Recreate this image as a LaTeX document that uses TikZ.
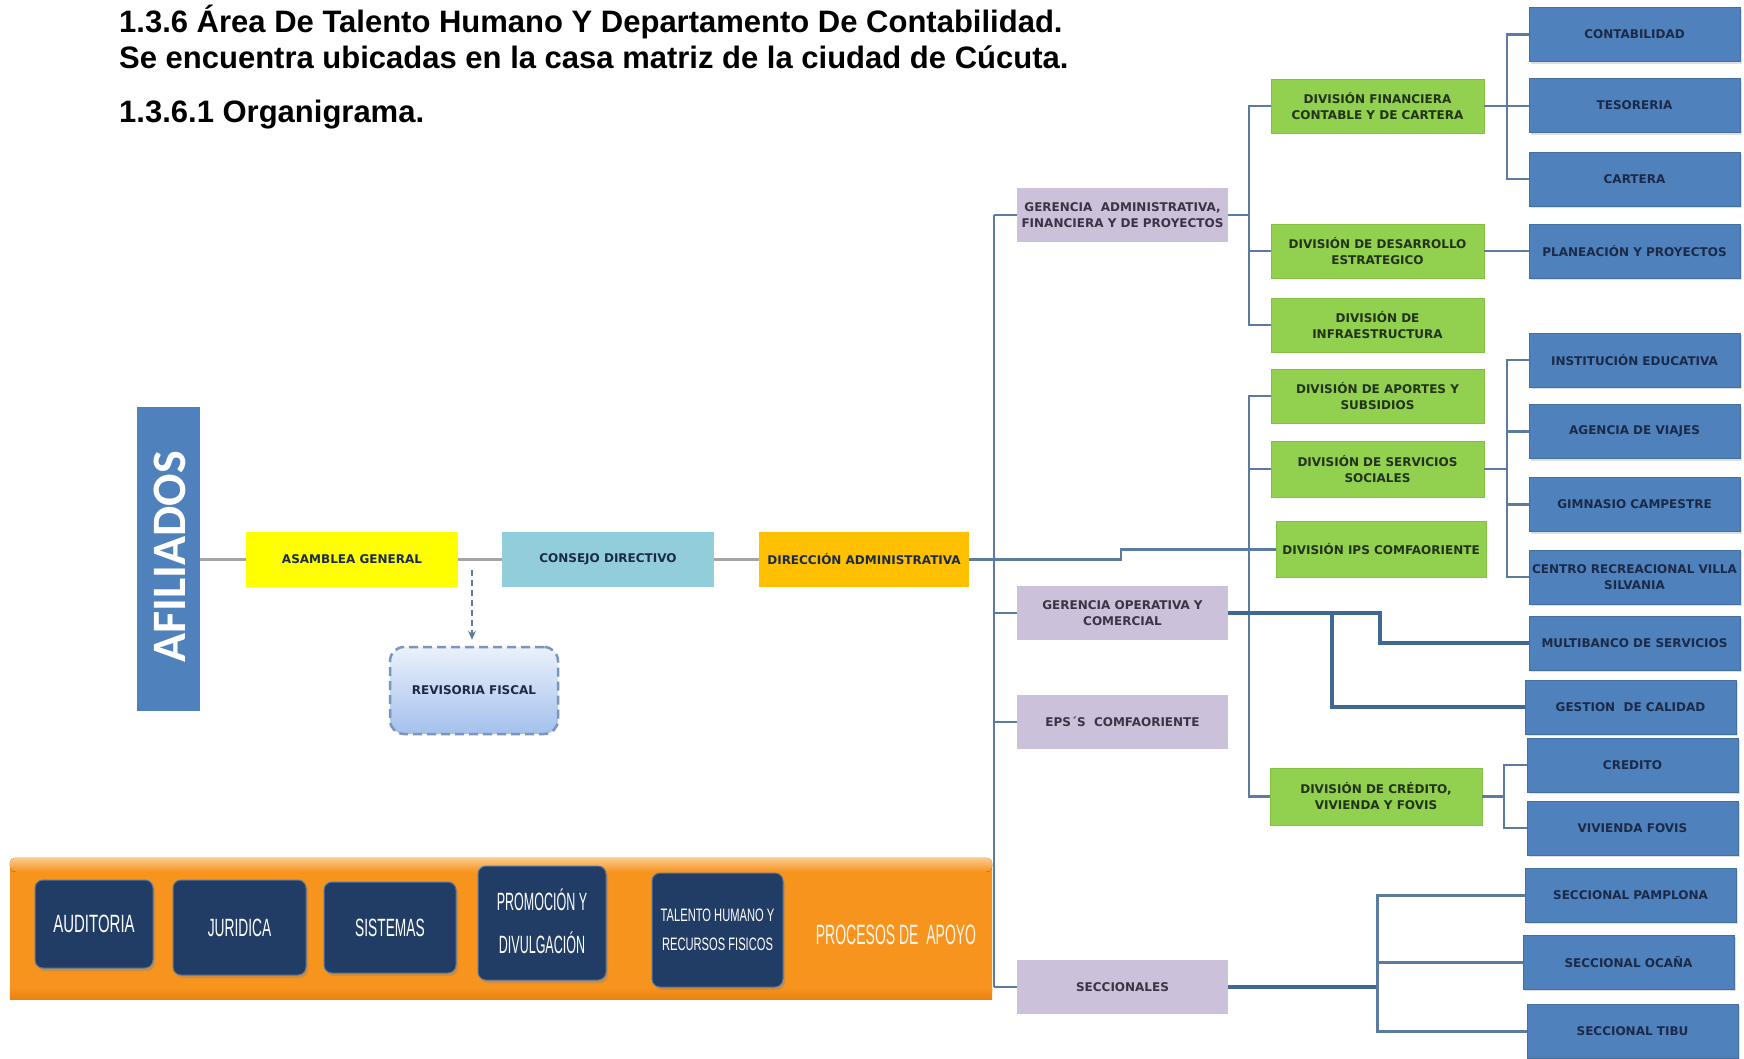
\documentclass[tikz,border=0pt]{standalone}
\usepackage{fontspec}
\usepackage{graphicx}
\setmainfont{Liberation Sans}
\newfontfamily\boxfont{DejaVu Sans}
\newfontfamily\afilfont{Carlito}
\newfontfamily\narrowfont{Liberation Sans}
\usetikzlibrary{shadows,arrows.meta}
\definecolor{boxblue}{HTML}{4F81BD}
\definecolor{boxblueline}{HTML}{41719C}
\definecolor{bluetext}{HTML}{1B2A48}
\definecolor{boxgreen}{HTML}{92D050}
\definecolor{boxgreenline}{HTML}{84C043}
\definecolor{greentext}{HTML}{22331A}
\definecolor{boxlav}{HTML}{CCC1DA}
\definecolor{lavtext}{HTML}{3C3346}
\definecolor{boxyellow}{HTML}{FFFF00}
\definecolor{boxcyan}{HTML}{92CDDC}
\definecolor{boxorange}{HTML}{FFC000}
\definecolor{connblue}{HTML}{5B7BA3}
\definecolor{connthick}{HTML}{3F6894}
\definecolor{conngray}{HTML}{A5A5A5}
\definecolor{bannerorange}{HTML}{F7941E}
\definecolor{bannerlight}{HTML}{FBC98E}
\definecolor{bannerdark}{HTML}{E9820F}
\definecolor{navybox}{HTML}{213D66}
\definecolor{navyline}{HTML}{56769F}
\definecolor{revline}{HTML}{7A96BC}
\definecolor{revtop}{HTML}{EAF1FB}
\definecolor{revbot}{HTML}{A4C0EC}
\newcommand{\narrowtxt}[2]{\scalebox{#1}[1]{\begin{tabular}{@{}c@{}}#2\end{tabular}}}
\begin{document}
\begin{tikzpicture}[x=1pt,y=-1pt,
  base/.style={inner sep=0pt, align=center, font={\boxfont\bfseries\fontsize{12}{16}\selectfont}},
  bluebox/.style={base, fill=boxblue, draw=boxblueline, line width=0.8pt, text=bluetext,
     minimum width=211pt, minimum height=54pt, drop shadow={opacity=0.25,shadow xshift=2pt,shadow yshift=-2pt}},
  greenbox/.style={base, fill=boxgreen, draw=boxgreenline, line width=0.6pt, text=greentext,
     minimum width=213pt, minimum height=54pt},
  lavbox/.style={base, fill=boxlav, text=lavtext, minimum width=211pt, minimum height=54pt},
  rowbox/.style={base, minimum width=212pt, minimum height=55pt, text=bluetext},
  conn/.style={draw=connblue, line width=2.4pt},
  thickconn/.style={draw=connthick, line width=4pt},
  grayconn/.style={draw=conngray, line width=3.5pt},
  navyboxst/.style={fill=navybox, draw=navyline, line width=1pt, rounded corners=8pt, text=white,
     inner sep=0pt, align=center, drop shadow={opacity=0.35,shadow xshift=2pt,shadow yshift=-3pt},
     font={\narrowfont\fontsize{25}{43}\selectfont}},
  titlest/.style={anchor=base west, inner sep=0pt, font={\bfseries\fontsize{31}{37}\selectfont}}
]
\useasboundingbox (0,0) rectangle (1744,1058);
\fill[white] (0,0) rectangle (1744,1058);

% titles
\node[titlest] (t1) at (119,32) {1.3.6 Área De Talento Humano Y Departamento De Contabilidad.};
\node[titlest] (t2) at (119,68) {Se encuentra ubicadas en la casa matriz de la ciudad de Cúcuta.};
\node[titlest] (t3) at (119,122) {1.3.6.1 Organigrama.};

% helper coordinates
\coordinate (trunk) at (994,0);
\coordinate (bus1) at (1249,0);
\coordinate (bus2) at (1507,0);
\coordinate (bus3) at (1504,0);
\coordinate (bus4) at (1377,0);
\coordinate (step) at (1121,0);
\coordinate (g1) at (1380,0);
\coordinate (g2) at (1332,0);

% purple boxes
\node[lavbox] (geradm) at (1122.5,215) {GERENCIA\ \ ADMINISTRATIVA,\\FINANCIERA Y DE PROYECTOS};
\node[lavbox] (gerop) at (1122.5,613) {GERENCIA OPERATIVA Y\\COMERCIAL};
\node[lavbox] (eps) at (1122.5,722) {EPS´S\ \ COMFAORIENTE};
\node[lavbox] (secc) at (1122.5,987) {SECCIONALES};

% green boxes
\node[greenbox] (divfin) at (1377.5,106) {DIVISIÓN FINANCIERA\\CONTABLE Y DE CARTERA};
\node[greenbox] (divdes) at (1377.5,251) {DIVISIÓN DE DESARROLLO\\ESTRATEGICO};
\node[greenbox] (divinf) at (1377.5,325) {DIVISIÓN DE\\INFRAESTRUCTURA};
\node[greenbox] (divapo) at (1377.5,396) {DIVISIÓN DE APORTES Y\\SUBSIDIOS};
\node[greenbox, minimum height=56pt] (divser) at (1377.5,469) {DIVISIÓN DE SERVICIOS\\SOCIALES};
\node[greenbox, minimum width=210pt, minimum height=56pt] (divips) at (1381,549.5) {DIVISIÓN IPS COMFAORIENTE};
\node[greenbox, minimum width=212pt, minimum height=57pt] (divcre) at (1376,796.5) {DIVISIÓN DE CRÉDITO,\\VIVIENDA Y FOVIS};

% blue boxes
\node[bluebox] (contab) at (1634.5,34.5) {CONTABILIDAD};
\node[bluebox] (tesor) at (1634.5,105.5) {TESORERIA};
\node[bluebox] (cartera) at (1634.5,179) {CARTERA};
\node[bluebox] (planea) at (1634.5,251) {PLANEACIÓN Y PROYECTOS};
\node[bluebox] (instit) at (1634.5,360) {INSTITUCIÓN EDUCATIVA};
\node[bluebox] (agencia) at (1634.5,431.5) {AGENCIA DE VIAJES};
\node[bluebox] (gimnasio) at (1634.5,504.5) {GIMNASIO CAMPESTRE};
\node[bluebox] (centro) at (1634.5,577) {CENTRO RECREACIONAL VILLA\\SILVANIA};
\node[bluebox] (multib) at (1634.5,643) {MULTIBANCO DE SERVICIOS};
\node[bluebox] (gestion) at (1630.5,707) {GESTION\ \ DE CALIDAD};
\node[bluebox] (credito) at (1632.5,765) {CREDITO};
\node[bluebox] (vivienda) at (1632.5,828) {VIVIENDA FOVIS};
\node[bluebox] (pamplona) at (1630.5,895) {SECCIONAL PAMPLONA};
\node[bluebox] (ocana) at (1628.5,962) {SECCIONAL OCAÑA};
\node[bluebox] (tibu) at (1632.5,1031) {SECCIONAL TIBU};

% first row
\node[fill=boxblue, minimum width=63pt, minimum height=304pt, inner sep=0pt] (afil) at (168.5,559) {};
\node[rotate=90, text=white, inner sep=0pt, font={\afilfont\bfseries\fontsize{48}{50}\selectfont}] (afiltxt) at (170,557) {AFILIADOS};
\node[rowbox, fill=boxyellow] (asam) at (352,559.5) {ASAMBLEA GENERAL};
\node[rowbox, fill=boxcyan] (consejo) at (608,559.5) {CONSEJO DIRECTIVO};
\node[rowbox, fill=boxorange, minimum width=210pt] (dir) at (864,559.5) {DIRECCIÓN ADMINISTRATIVA};
\node[base, text=bluetext, rounded corners=14pt, draw=revline, line width=2.5pt, dash pattern=on 9pt off 5pt,
      top color=revtop, bottom color=revbot, minimum width=168pt, minimum height=87pt] (revis) at (474,690.5) {REVISORIA FISCAL};

\draw[grayconn] (asam.west -| afil.east) -- (asam.west);
\draw[grayconn] (asam.east) -- (consejo.west);
\draw[grayconn] (consejo.east) -- (dir.west);
\coordinate (rvtop) at (472,570);
\draw[draw=connblue, line width=2pt, dash pattern=on 6pt off 4pt, -{Stealth[length=9pt,width=8pt]}, shorten >=6pt]
   (rvtop) -- (revis.north -| rvtop);

% trunk and connectors
\draw[conn] (geradm.west -| trunk) -- (secc.west -| trunk);
\draw[conn] (geradm.west -| trunk) -- (geradm.west);
\draw[conn] (gerop.west -| trunk) -- (gerop.west);
\draw[conn] (eps.west -| trunk) -- (eps.west);
\draw[conn] (secc.west -| trunk) -- (secc.west);
\draw[conn] (dir.east) -- (dir.east -| step) |- (divips.west);

\draw[conn] (geradm.east) -- (geradm.east -| bus1);
\draw[conn] (divfin.west) -- (divfin.west -| bus1) -- (divinf.west -| bus1) -- (divinf.west);
\draw[conn] (divdes.west) -- (divdes.west -| bus1);
\draw[conn] (divapo.west) -- (divapo.west -| bus1) -- (divcre.west -| bus1) -- (divcre.west);
\draw[conn] (divser.west) -- (divser.west -| bus1);

\draw[conn] (contab.west) -- (contab.west -| bus2) -- (cartera.west -| bus2) -- (cartera.west);
\draw[conn] (divfin.east) -- (divfin.east -| tesor.west);
\draw[conn] (divdes.east) -- (divdes.east -| planea.west);
\draw[conn] (instit.west) -- (instit.west -| bus2) -- (centro.west -| bus2) -- (centro.west);
\draw[conn] (agencia.west) -- (agencia.west -| bus2);
\draw[conn] (gimnasio.west) -- (gimnasio.west -| bus2);
\draw[conn] (divser.east) -- (divser.east -| bus2);
\draw[conn] (credito.west) -- (credito.west -| bus3) -- (vivienda.west -| bus3) -- (vivienda.west);
\draw[conn] (divcre.east) -- (divcre.east -| bus3);

\draw[thickconn] (gerop.east) -- (gerop.east -| g1) |- (multib.west);
\draw[thickconn] (gerop.east -| g2) |- (gestion.west);

\draw[thickconn] (secc.east) -- (secc.east -| bus4);
\draw[conn, line width=3pt] (pamplona.west) -- (pamplona.west -| bus4) -- (tibu.west -| bus4) -- (tibu.west);
\draw[conn, line width=3pt] (ocana.west) -- (ocana.west -| bus4);

% banner
\node[rounded corners=6pt, fill=bannerorange, minimum width=982pt, minimum height=141pt, inner sep=0pt] (banner) at (501,928.5) {};
\fill[top color=bannerlight, bottom color=bannerorange, rounded corners=6pt]
   (banner.north west) rectangle ([yshift=-14pt]banner.north east);
\fill[top color=bannerorange, bottom color=bannerdark]
   ([yshift=12pt]banner.south west) rectangle (banner.south east);
\node[navyboxst, minimum width=118pt, minimum height=88pt] (aud) at (94,924) {\narrowtxt{0.6}{AUDITORIA}};
\node[navyboxst, minimum width=133pt, minimum height=95pt] (jur) at (239.5,927.5) {\narrowtxt{0.55}{JURIDICA}};
\node[navyboxst, minimum width=132pt, minimum height=91pt] (sis) at (390,927.5) {\narrowtxt{0.55}{SISTEMAS}};
\node[navyboxst, minimum width=128pt, minimum height=114pt] (prom) at (542,923) {\narrowtxt{0.5}{PROMOCIÓN Y\\DIVULGACIÓN}};
\node[navyboxst, minimum width=131pt, minimum height=114pt, font={\narrowfont\fontsize{18}{29}\selectfont}] (tal) at (717.5,930) {\narrowtxt{0.62}{TALENTO HUMANO Y\\RECURSOS FISICOS}};
\node[inner sep=0pt, text=white!92!orange, font={\narrowfont\fontsize{28}{30}\selectfont}] (proc) at (896,938) {\narrowtxt{0.5}{PROCESOS DE\ \ APOYO}};
\end{tikzpicture}
\end{document}
